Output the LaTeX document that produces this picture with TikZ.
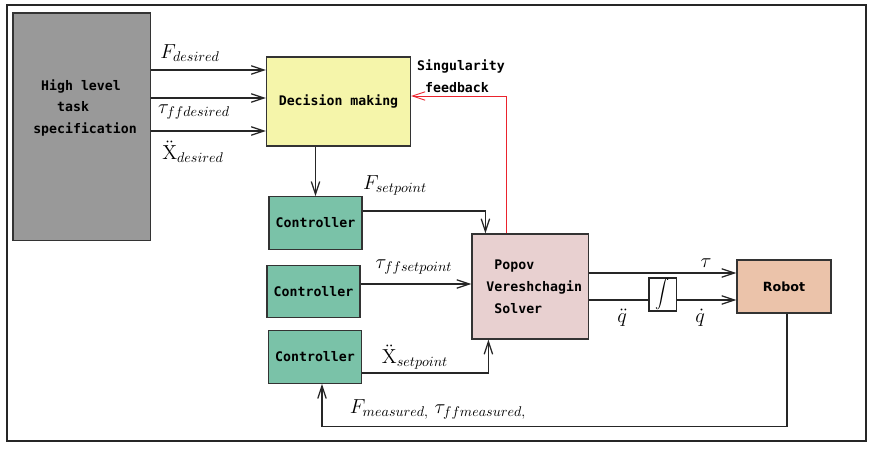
\documentclass[tikz,border=0pt]{standalone}
\usepackage{fix-cm}
\usepackage{fontspec}
\setmonofont{DejaVu Sans Mono}
\newfontfamily\robotfont{DejaVu Sans}
\usetikzlibrary{arrows.meta, positioning, calc}
\definecolor{hlgray}{RGB}{153,153,153}
\definecolor{dmyellow}{RGB}{245,245,170}
\definecolor{ctrlgreen}{RGB}{122,194,168}
\definecolor{pvspink}{RGB}{232,208,208}
\definecolor{robotsalmon}{RGB}{235,195,170}
\definecolor{fbred}{RGB}{235,35,45}

\begin{document}
\begin{tikzpicture}[x=0.25mm, y=-0.25mm,
    txt/.style={font=\ttfamily\bfseries\fontsize{9.4}{15.6}\selectfont, align=left, inner sep=0pt},
    box/.style={txt, draw=black!80, line width=0.9pt},
    ctrlbox/.style={box, fill=ctrlgreen, minimum width=23.25mm, minimum height=13.1mm},
    sig/.style={draw=black!85, line width=0.9pt, -{Straight Barb[length=9pt, width=6pt]}},
    lbl/.style={font=\fontsize{14.4}{17}\selectfont, inner sep=0pt}
]
    \useasboundingbox (0,0) rectangle (877,449);
    % outer frame
    \draw[black!85, line width=0.8pt] (7,5) rectangle (866,441);

    % task specification and decision
    \node[box, fill=hlgray, minimum width=34.4mm, minimum height=56.9mm] (hlbox) at (81.75,126.75) {};
    \node[txt] (hltext) at (85,108) {\phantom{x}High level\\\phantom{xxx}task\\specification};
    \node[box, fill=dmyellow, minimum width=36mm, minimum height=22.25mm] (dm) at (338.5,101.5) {Decision making};

    % controllers
    \node[ctrlbox] (ctrla) at (315.5,223) {Controller};
    \node[ctrlbox] (ctrlb) at (313.5,291.5) {Controller};
    \node[ctrlbox] (ctrlc) at (315,357) {Controller};

    % solver, integrator and robot
    \node[box, fill=pvspink, minimum width=29.1mm, minimum height=26.25mm] (pvs) at (530.25,286.5) {\phantom{xx}Popov\\\phantom{x}Vereshchagin\\\phantom{xx}Solver};
    \node[draw=black!85, line width=0.9pt, inner sep=0pt, minimum width=6.9mm, minimum height=8.25mm] (integ) at (662.75,294.5) {$\displaystyle\int$};
    \node[box, fill=robotsalmon, font=\robotfont\bfseries\fontsize{9}{10}\selectfont, minimum width=23.5mm, minimum height=13.25mm] (robot) at (784,286.5) {Robot};

    % desired values
    \draw[sig] (hlbox.east |- 0,70) -- (dm.west |- 0,70);
    \draw[sig] (hlbox.east |- 0,98) -- (dm.west |- 0,98);
    \draw[sig] (hlbox.east |- 0,131) -- (dm.west |- 0,131);
    \node[lbl] (fdes) at (190,53) {$F_{desired}$};
    \node[lbl] (taudes) at (194,112) {$\tau_{ffdesired}$};
    \node[lbl] (xdes) at (193,152) {$\ddot{\mathrm{X}}_{desired}$};

    % setpoints
    \draw[sig] (dm.south -| ctrla) -- (ctrla.north);
    \draw[sig] (ctrla.east |- 0,211) -| ($(pvs.north west)+(14,0)$);
    \draw[sig] (ctrlb.east |- 0,284) -- (pvs.west |- 0,284);
    \draw[sig] (ctrlc.east |- 0,373) -| ($(pvs.south west)+(17,0)$);
    \node[lbl] (fset) at (395,185) {$F_{setpoint}$};
    \node[lbl] (tauset) at (414,267) {$\tau_{ffsetpoint}$};
    \node[lbl] (xset) at (415,357) {$\ddot{\mathrm{X}}_{setpoint}$};

    % singularity feedback
    \draw[sig, draw=fbred, line width=0.6pt] ($(pvs.north west)+(35,0)$) |- (dm.east |- 0,96);
    \node[txt] (sing) at (461,76) {Singularity\\\phantom{x}feedback};

    % solver outputs
    \draw[sig] (pvs.east |- 0,273) -- (robot.west |- 0,273);
    \draw[black!85, line width=0.9pt] (pvs.east |- 0,300) -- (integ.west |- 0,300);
    \draw[sig] (integ.east |- 0,300) -- (robot.west |- 0,300);
    \node[lbl] (tauout) at (706,263) {$\tau$};
    \node[lbl] (qdd) at (622,318) {$\ddot{q}$};
    \node[lbl] (qd) at (700,318) {$\dot{q}$};

    % measured feedback
    \draw[sig] ($(robot.south)+(3,0)$) |- ($(ctrlc.south)+(7,43)$) -- ($(ctrlc.south)+(7,0)$);
    \node[lbl] (meas) at (438,409) {$F_{measured,}\;\tau_{ffmeasured,}$};
\end{tikzpicture}
\end{document}
